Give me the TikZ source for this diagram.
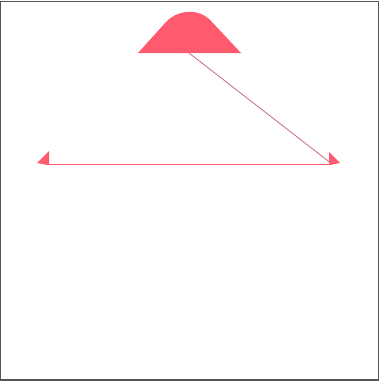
\documentclass[tikz,border=0pt]{standalone}
\definecolor{pinkred}{HTML}{FF5A6E}
\definecolor{linkcol}{HTML}{C86A78}
\definecolor{frame}{HTML}{555555}
\begin{document}
\begin{tikzpicture}[x=1pt,y=-1pt,
  shapefill/.style={fill=pinkred,draw=none},
  tipfill/.style={fill=pinkred,draw=none}]
\useasboundingbox (0,0) rectangle (382,383);
\draw[frame,line width=1.2pt] (0.6,1.6) rectangle (378.4,380);
% bump shape
\fill[shapefill] (138,53) -- (166,22) .. controls (176,11) and (198,6) .. (212,22) -- (241,53) -- cycle;
\coordinate (top) at (189,53);
\coordinate (L) at (45,164);
\coordinate (R) at (332,164);
\draw[linkcol,line width=0.8pt] (top) -- (R);
\draw[pinkred,line width=1pt] (L) -- (R);
% arrow-like triangles
\fill[tipfill] (37,163) -- (49,151) -- (49,165) -- cycle;
\fill[tipfill] (329,152) -- (340,163) -- (329,165) -- cycle;
\end{tikzpicture}
\end{document}
